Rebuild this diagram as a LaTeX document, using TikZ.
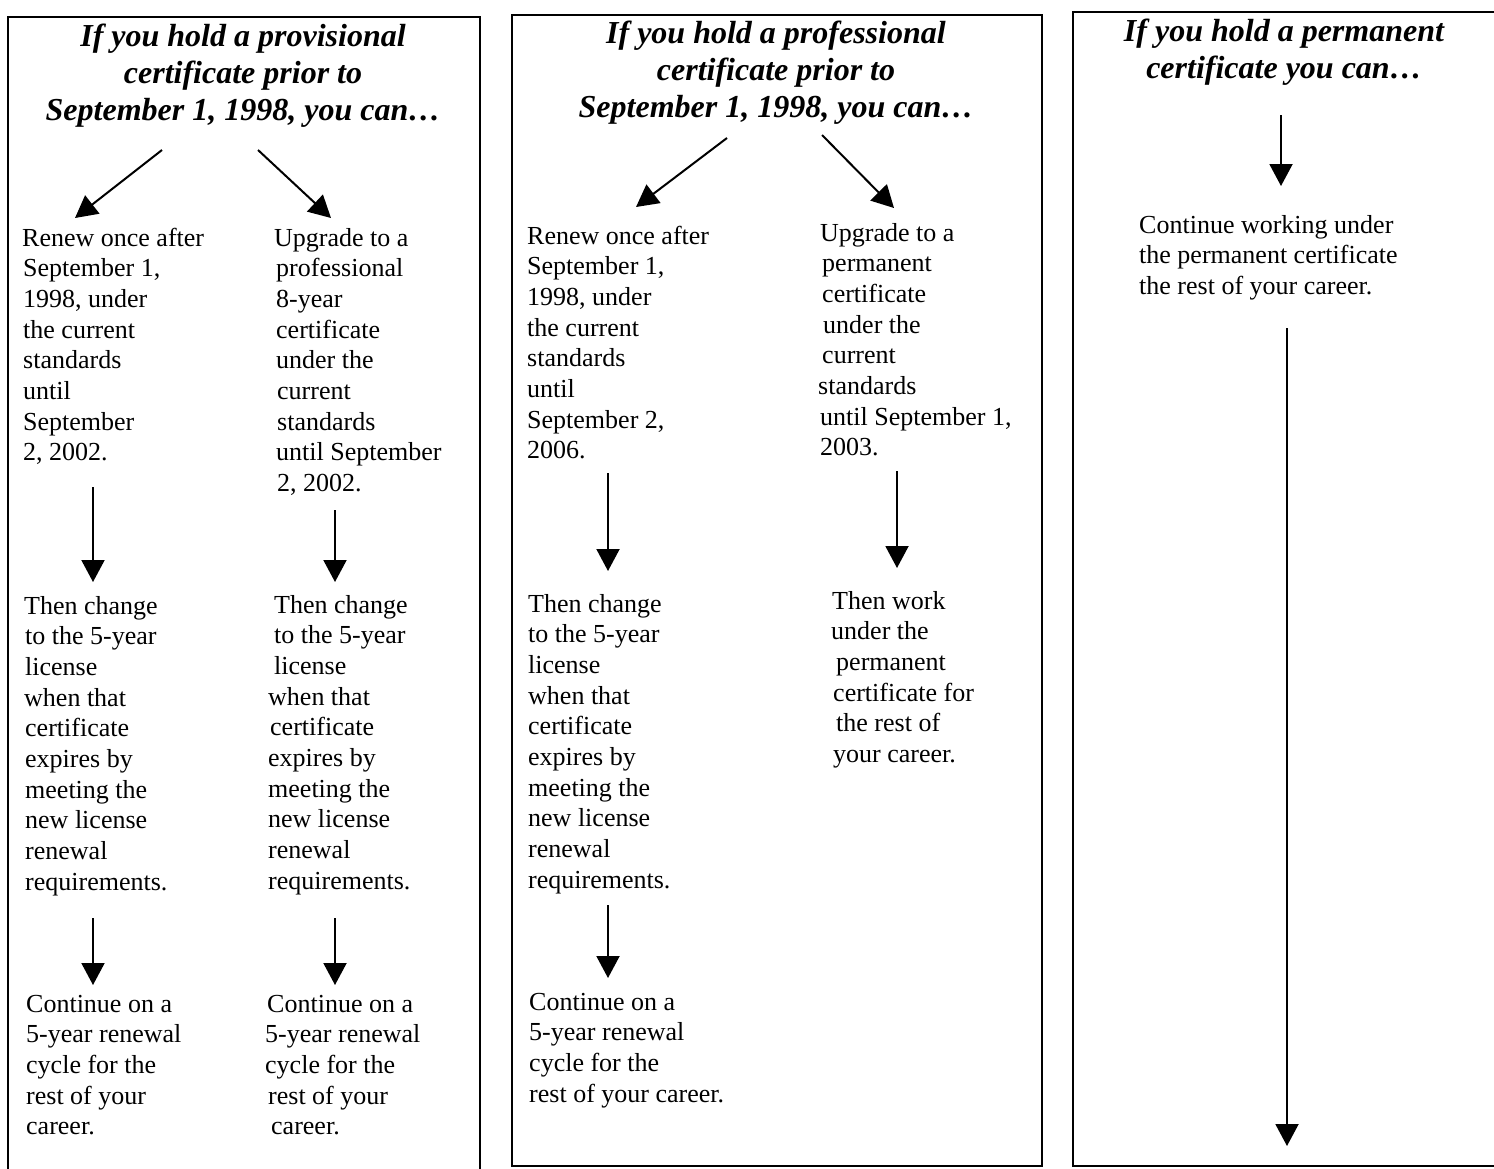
\documentclass[tikz,border=0pt]{standalone}
\usepackage{fontspec}
\setmainfont{Liberation Serif}
\usetikzlibrary{arrows.meta}
\begin{document}
\begin{tikzpicture}[x=1pt,y=-1pt,
  body/.style={font=\fontsize{26}{30.7}\selectfont, align=left, inner sep=0pt, anchor=base west},
  ttl/.style={font=\fontsize{32}{37}\selectfont\bfseries\itshape, align=center, inner sep=0pt, anchor=base},
  conn/.style={line width=2pt, -{Triangle[length=22pt,width=23pt]}},
  frame/.style={line width=2pt}]
\useasboundingbox (0,0) rectangle (1494,1168);
\fill[white] (0,0) rectangle (1494,1168);
% frames
\draw[frame] (8,1172) -- (8,17) -- (480,17) -- (480,1172);
\draw[frame] (512,15) rectangle (1042,1166);
\draw[frame] (1500,12) -- (1073,12) -- (1073,1166) -- (1500,1166);

% ---------- column 1 ----------
\node[ttl] (t1) at (243,{46+2*37}) {If you hold a provisional\\certificate prior to\\September 1, 1998, you can\ldots};
\node[body] (a1) at (22,{246+7*30.7}) {Renew once after\\\hspace*{1pt}September 1,\\\hspace*{1pt}1998, under\\\hspace*{1pt}the current\\\hspace*{1pt}standards\\\hspace*{1pt}until\\\hspace*{1pt}September\\\hspace*{1pt}2, 2002.};
\node[body] (b1) at (274,{246+8*30.7}) {Upgrade to a\\\hspace*{2pt}professional\\\hspace*{2pt}8-year\\\hspace*{2pt}certificate\\\hspace*{2pt}under the\\\hspace*{3pt}current\\\hspace*{3pt}standards\\\hspace*{2pt}until September\\\hspace*{3pt}2, 2002.};
\node[body] (a1b) at (24,{614+9*30.7}) {Then change\\\hspace*{1pt}to the 5-year\\\hspace*{1pt}license\\when that\\\hspace*{1pt}certificate\\\hspace*{1pt}expires by\\\hspace*{1pt}meeting the\\\hspace*{1pt}new license\\\hspace*{1pt}renewal\\\hspace*{1pt}requirements.};
\node[body] (b1b) at (268,{613+9*30.7}) {\hspace*{6pt}Then change\\\hspace*{6pt}to the 5-year\\\hspace*{6pt}license\\when that\\\hspace*{2pt}certificate\\expires by\\meeting the\\new license\\renewal\\requirements.};
\node[body] (a1c) at (26,{1012+4*30.7}) {Continue on a\\5-year renewal\\cycle for the\\rest of your\\career.};
\node[body] (b1c) at (265,{1012+4*30.7}) {\hspace*{2pt}Continue on a\\5-year renewal\\cycle for the\\\hspace*{3pt}rest of your\\\hspace*{6pt}career.};

\coordinate (t1l) at (162,150); \coordinate (t1le) at (75,218);
\coordinate (t1r) at (258,150); \coordinate (t1re) at (331,218);
\draw[conn] (t1l) -- (t1le);
\draw[conn] (t1r) -- (t1re);
\coordinate (a1s) at (93,487); \coordinate (a1be) at (93,582);
\coordinate (b1s) at (335,510); \coordinate (b1be) at (335,582);
\draw[conn] (a1s) -- (a1be);
\draw[conn] (b1s) -- (b1be);
\coordinate (a1bs) at (93,918); \coordinate (a1ce) at (93,985);
\coordinate (b1bs) at (335,918); \coordinate (b1ce) at (335,985);
\draw[conn] (a1bs) -- (a1ce);
\draw[conn] (b1bs) -- (b1ce);

% ---------- column 2 ----------
\node[ttl] (t2) at (776,{43+2*37}) {If you hold a professional\\certificate prior to\\September 1, 1998, you can\ldots};
\node[body] (a2) at (527,{244+7*30.7}) {Renew once after\\September 1,\\1998, under\\the current\\standards\\until\\September 2,\\2006.};
\node[body] (b2) at (818,{241+7*30.7}) {\hspace*{2pt}Upgrade to a\\\hspace*{4pt}permanent\\\hspace*{4pt}certificate\\\hspace*{5pt}under the\\\hspace*{4pt}current\\standards\\\hspace*{2pt}until September 1,\\\hspace*{2pt}2003.};
\node[body] (a2b) at (528,{612+9*30.7}) {Then change\\to the 5-year\\license\\when that\\certificate\\expires by\\meeting the\\new license\\renewal\\requirements.};
\node[body] (b2b) at (831,{609+5*30.7}) {\hspace*{1pt}Then work\\under the\\\hspace*{5pt}permanent\\\hspace*{2pt}certificate for\\\hspace*{5pt}the rest of\\\hspace*{2pt}your career.};
\node[body] (a2c) at (529,{1010+3*30.7}) {Continue on a\\5-year renewal\\cycle for the\\rest of your career.};

\coordinate (t2l) at (727,138); \coordinate (t2le) at (636,207);
\coordinate (t2r) at (822,135); \coordinate (t2re) at (894,208);
\draw[conn] (t2l) -- (t2le);
\draw[conn] (t2r) -- (t2re);
\coordinate (a2s) at (608,473); \coordinate (a2be) at (608,571);
\coordinate (b2s) at (897,471); \coordinate (b2be) at (897,568);
\draw[conn] (a2s) -- (a2be);
\draw[conn] (b2s) -- (b2be);
\coordinate (a2bs) at (608,905); \coordinate (a2ce) at (608,978);
\draw[conn] (a2bs) -- (a2ce);

% ---------- column 3 ----------
\node[ttl] (t3) at (1284,{41+37}) {If you hold a permanent\\certificate you can\ldots};
\node[body] (c3) at (1139,{233+2*30.7}) {Continue working under\\the permanent certificate\\the rest of your career.};
\coordinate (t3s) at (1281,115); \coordinate (c3e) at (1281,186);
\draw[conn] (t3s) -- (c3e);
\coordinate (c3s) at (1287,328); \coordinate (c3end) at (1287,1146);
\draw[conn] (c3s) -- (c3end);
\end{tikzpicture}
\end{document}
